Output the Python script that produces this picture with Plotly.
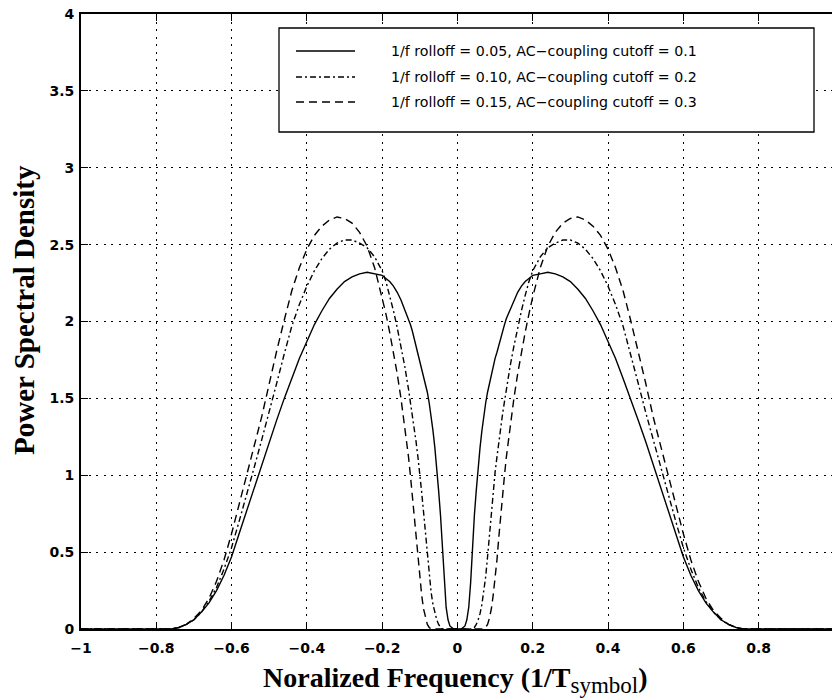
import plotly.graph_objects as go

# Normalized frequency grid (units of 1/T_symbol)
freq = [
    -1.00, -0.90, -0.80, -0.78, -0.76, -0.74, -0.72, -0.70, -0.68, -0.66,
    -0.64, -0.62, -0.60, -0.58, -0.56, -0.54, -0.52, -0.50, -0.48, -0.46,
    -0.44, -0.42, -0.40, -0.38, -0.36, -0.34, -0.32, -0.30, -0.28, -0.26,
    -0.24, -0.22, -0.20, -0.19, -0.18, -0.17, -0.16, -0.15, -0.14, -0.13,
    -0.125, -0.12, -0.115, -0.11, -0.105, -0.10, -0.095, -0.09, -0.085, -0.08,
    -0.075, -0.07, -0.065, -0.06, -0.055, -0.05, -0.045, -0.04, -0.035, -0.03,
    -0.025, -0.02, -0.015, -0.01, -0.005,
    0.0,
    0.005, 0.01, 0.015, 0.02, 0.025, 0.03, 0.035, 0.04, 0.045, 0.05,
    0.055, 0.06, 0.065, 0.07, 0.075, 0.08, 0.085, 0.09, 0.095, 0.10,
    0.105, 0.11, 0.115, 0.12, 0.125, 0.13, 0.14, 0.15, 0.16, 0.17,
    0.18, 0.19, 0.20, 0.22, 0.24, 0.26, 0.28, 0.30, 0.32, 0.34,
    0.36, 0.38, 0.40, 0.42, 0.44, 0.46, 0.48, 0.50, 0.52, 0.54,
    0.56, 0.58, 0.60, 0.62, 0.64, 0.66, 0.68, 0.70, 0.72, 0.74,
    0.76, 0.78, 0.80, 0.90, 1.00,
]

# 1/f rolloff = 0.05, AC-coupling cutoff = 0.1
psd_005 = [
    0, 0, 0, 0, 0, 0.01, 0.03, 0.06, 0.11, 0.17,
    0.25, 0.35, 0.47, 0.62, 0.77, 0.92, 1.07, 1.22, 1.36, 1.50,
    1.63, 1.76, 1.87, 1.98, 2.07, 2.15, 2.21, 2.26, 2.29, 2.31,
    2.32, 2.31, 2.30, 2.28, 2.26, 2.23, 2.19, 2.14, 2.08, 2.02,
    1.98, 1.94, 1.89, 1.85, 1.80, 1.76, 1.71, 1.66, 1.60, 1.54,
    1.47, 1.39, 1.29, 1.18, 1.06, 0.90, 0.74, 0.55, 0.30, 0.14,
    0.06, 0.02, 0.01, 0, 0,
    0,
    0, 0, 0.01, 0.02, 0.06, 0.14, 0.30, 0.55, 0.74, 0.90,
    1.06, 1.18, 1.29, 1.39, 1.47, 1.54, 1.60, 1.66, 1.71, 1.76,
    1.80, 1.85, 1.89, 1.94, 1.98, 2.02, 2.08, 2.14, 2.19, 2.23,
    2.26, 2.28, 2.30, 2.31, 2.32, 2.31, 2.29, 2.26, 2.21, 2.15,
    2.07, 1.98, 1.87, 1.76, 1.63, 1.50, 1.36, 1.22, 1.07, 0.92,
    0.77, 0.62, 0.47, 0.35, 0.25, 0.17, 0.11, 0.06, 0.03, 0.01,
    0, 0, 0, 0, 0,
]

# 1/f rolloff = 0.10, AC-coupling cutoff = 0.2
psd_010 = [
    0, 0, 0, 0, 0, 0.01, 0.03, 0.06, 0.11, 0.18,
    0.27, 0.39, 0.53, 0.70, 0.87, 1.05, 1.23, 1.41, 1.60, 1.79,
    1.97, 2.11, 2.23, 2.33, 2.41, 2.47, 2.51, 2.53, 2.53, 2.51,
    2.48, 2.42, 2.33, 2.26, 2.17, 2.07, 1.96, 1.84, 1.71, 1.56,
    1.48, 1.40, 1.31, 1.22, 1.12, 1.02, 0.89, 0.76, 0.62, 0.47,
    0.34, 0.24, 0.16, 0.10, 0.06, 0.03, 0.01, 0, 0, 0,
    0, 0, 0, 0, 0,
    0,
    0, 0, 0, 0, 0, 0, 0, 0, 0.01, 0.03,
    0.06, 0.10, 0.16, 0.24, 0.34, 0.47, 0.62, 0.76, 0.89, 1.02,
    1.12, 1.22, 1.31, 1.40, 1.48, 1.56, 1.71, 1.84, 1.96, 2.07,
    2.17, 2.26, 2.33, 2.42, 2.48, 2.51, 2.53, 2.53, 2.51, 2.47,
    2.41, 2.33, 2.23, 2.11, 1.97, 1.79, 1.60, 1.41, 1.23, 1.05,
    0.87, 0.70, 0.53, 0.39, 0.27, 0.18, 0.11, 0.06, 0.03, 0.01,
    0, 0, 0, 0, 0,
]

# 1/f rolloff = 0.15, AC-coupling cutoff = 0.3
psd_015 = [
    0, 0, 0, 0, 0, 0.01, 0.03, 0.07, 0.12, 0.20,
    0.31, 0.45, 0.62, 0.81, 1.01, 1.19, 1.38, 1.60, 1.81, 2.01,
    2.20, 2.35, 2.47, 2.56, 2.62, 2.66, 2.68, 2.67, 2.64, 2.58,
    2.49, 2.35, 2.16, 2.05, 1.93, 1.80, 1.66, 1.50, 1.32, 1.12,
    1.00, 0.87, 0.75, 0.60, 0.45, 0.33, 0.22, 0.13, 0.07, 0.03,
    0.01, 0, 0, 0, 0, 0, 0, 0, 0, 0,
    0, 0, 0, 0, 0,
    0,
    0, 0, 0, 0, 0, 0, 0, 0, 0, 0,
    0, 0, 0, 0, 0.01, 0.03, 0.07, 0.13, 0.22, 0.33,
    0.45, 0.60, 0.75, 0.87, 1.00, 1.12, 1.32, 1.50, 1.66, 1.80,
    1.93, 2.05, 2.16, 2.35, 2.49, 2.58, 2.64, 2.67, 2.68, 2.66,
    2.62, 2.56, 2.47, 2.35, 2.20, 2.01, 1.81, 1.60, 1.38, 1.19,
    1.01, 0.81, 0.62, 0.45, 0.31, 0.20, 0.12, 0.07, 0.03, 0.01,
    0, 0, 0, 0, 0,
]

series_labels = [
    "1/f rolloff = 0.05, AC\u2212coupling cutoff = 0.1",
    "1/f rolloff = 0.10, AC\u2212coupling cutoff = 0.2",
    "1/f rolloff = 0.15, AC\u2212coupling cutoff = 0.3",
]
x_ticks = [-1, -0.8, -0.6, -0.4, -0.2, 0, 0.2, 0.4, 0.6, 0.8]
y_ticks = [0, 0.5, 1, 1.5, 2, 2.5, 3, 3.5, 4]

line_dashes = ["solid", "6px,3px,2px,3px", "8px,5px"]

fig = go.Figure()
for values, label, dash in zip([psd_005, psd_010, psd_015], series_labels, line_dashes):
    fig.add_trace(go.Scatter(
        x=freq, y=values, mode="lines", name=label, showlegend=False,
        line=dict(color="black", width=1.4, dash=dash),
    ))

tick_font = dict(family="DejaVu Sans", size=14, color="black", weight="bold")
axis_common = dict(
    showline=True, linecolor="black", linewidth=1.8,
    ticks="inside", ticklen=7, tickwidth=1.4, tickcolor="black",
    showgrid=True, gridcolor="black", gridwidth=1.3, griddash="2px,5.5px",
    zeroline=False, tickfont=tick_font,
)

W, H = 832, 698
ML, MR, MT, MB = 81, 0, 14, 69
PW, PH = W - ML - MR, H - MT - MB


def px_to_paper(px, py):
    return (px - ML) / PW, (H - MB - py) / PH


fig.update_layout(
    width=W, height=H,
    margin=dict(l=ML, r=MR, t=MT, b=MB),
    paper_bgcolor="white", plot_bgcolor="white",
    xaxis=dict(range=[-1, 0.995], tickvals=x_ticks, mirror="ticks",
               ticklabelstandoff=5, **axis_common),
    yaxis=dict(range=[0, 4], tickvals=y_ticks, ticklabelstandoff=2, **axis_common),
)

# Legend box drawn in the upper right of the axes
bx0, by0 = px_to_paper(279, 132)
bx1, by1 = px_to_paper(814, 28)
fig.add_shape(type="rect", xref="paper", yref="paper", x0=bx0, y0=by0, x1=bx1, y1=by1,
              line=dict(color="black", width=1.3), fillcolor="white", layer="above")
row_px = [51, 77, 102]
for label, dash, ry in zip(series_labels, line_dashes, row_px):
    sx0, sy = px_to_paper(296, ry)
    sx1, _ = px_to_paper(355, ry)
    fig.add_shape(type="line", xref="paper", yref="paper", x0=sx0, y0=sy, x1=sx1, y1=sy,
                  line=dict(color="black", width=1.4, dash=dash), layer="above")
    tx, _ = px_to_paper(389, ry)
    fig.add_annotation(xref="paper", yref="paper", x=tx, y=sy, text=label,
                       showarrow=False, xanchor="left", yanchor="middle",
                       font=dict(family="DejaVu Sans", size=14.2, color="black"))

# Axis titles
title_font = dict(family="Liberation Serif", size=28, color="black", weight="bold")
yx, yy = px_to_paper(24, 310)
fig.add_annotation(xref="paper", yref="paper", x=yx, y=yy, text="Power Spectral Density",
                   textangle=-90, showarrow=False, xanchor="center", yanchor="middle",
                   font=dict(family="Liberation Serif", size=29, color="black", weight="bold"))
xx, xy = px_to_paper(455, 680)
fig.add_annotation(xref="paper", yref="paper", x=xx, y=xy,
                   text="Noralized Frequency (1/T<sub><span style='font-size:23px;font-weight:normal'>symbol</span></sub>)",
                   showarrow=False, xanchor="center", yanchor="middle", font=title_font)

fig.write_html("out.html")
